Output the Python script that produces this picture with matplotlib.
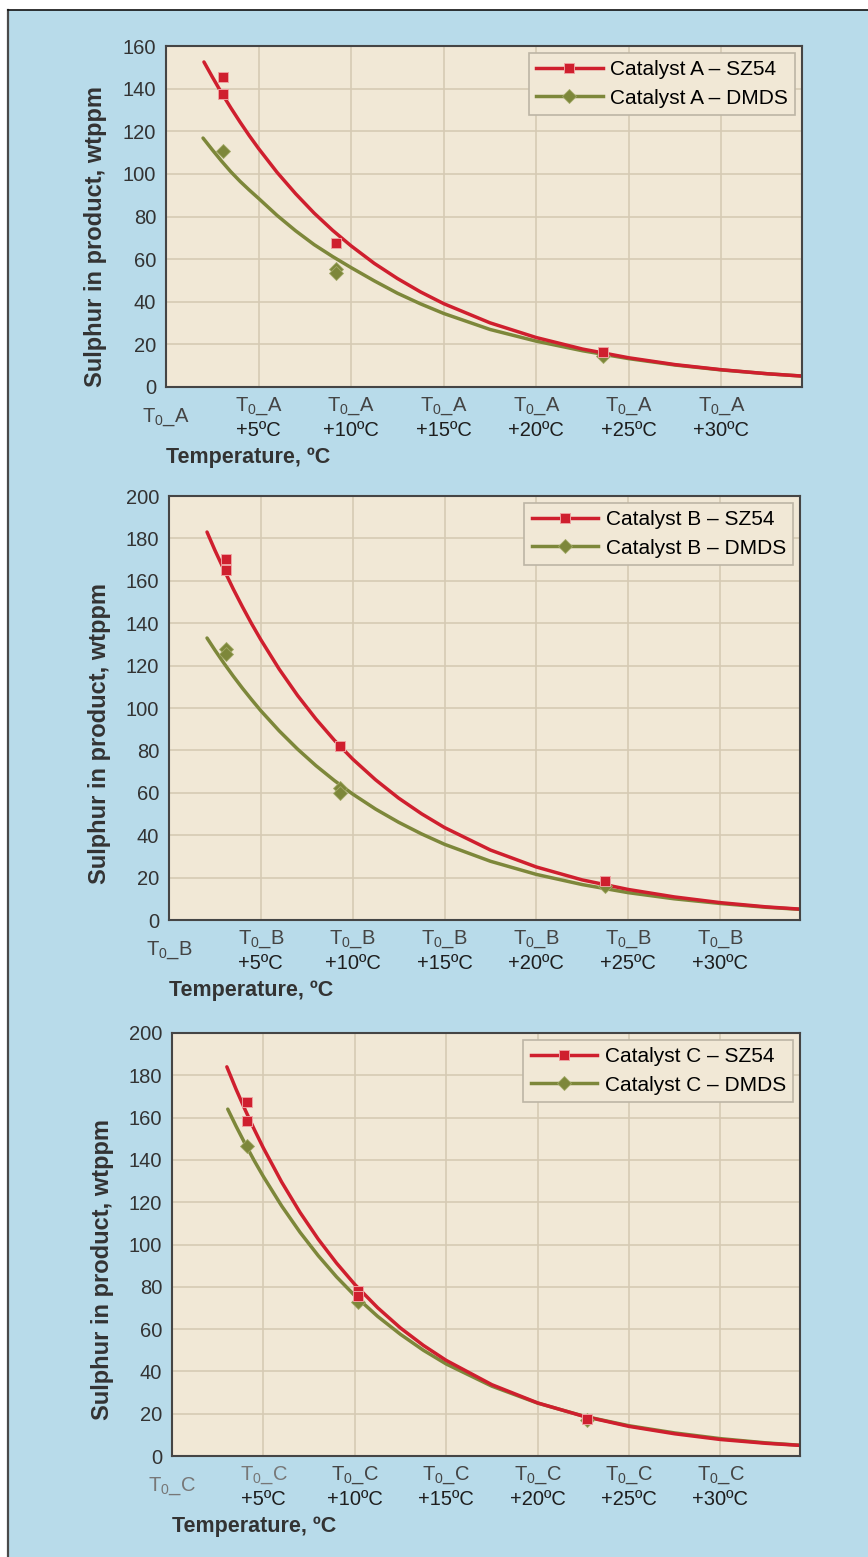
import numpy as np
import matplotlib.pyplot as plt
from matplotlib.lines import Line2D
from matplotlib.patches import Rectangle

plt.rcParams['font.family'] = ['Liberation Sans', 'DejaVu Sans']
plt.rcParams['mathtext.default'] = 'regular'

# =========================================================
# DATA, x = degrees above T0
# =========================================================
# --- Catalyst A ---
a_fit_red_x = [2.05, 2.5, 3, 3.5, 4, 4.5, 5, 6, 7, 8, 9, 10, 11.25, 12.5, 13.75, 15, 17.5, 20, 22.5, 25, 27.5, 30, 32.5, 34.4]
a_fit_red_y = [152.5, 145.5, 138, 131, 124.3, 117.9, 111.9, 100.7, 90.7, 81.6, 73.5, 66.2, 58, 50.9, 44.6, 39.1, 30.1, 23.2, 17.8, 13.7, 10.5, 8.1, 6.2, 5.1]
a_fit_olv_x = [2.0, 2.5, 3, 3.5, 4, 4.5, 5, 6, 7, 8, 9, 10, 11.25, 12.5, 13.75, 15, 17.5, 20, 22.5, 25, 27.5, 30, 32.5, 34.4]
a_fit_olv_y = [116.8, 111.3, 106, 101, 96.5, 92.4, 88.5, 80.5, 73.3, 66.8, 61.2, 56, 49.8, 44, 39, 34.5, 27, 21.5, 17, 13.3, 10.3, 8, 6.2, 5.1]
a_pts_red_x = [3.08, 3.08, 9.2, 23.6]
a_pts_red_y = [145.5, 137.5, 67.5, 16.2]
a_pts_olv_x = [3.08, 9.2, 9.2, 23.6]
a_pts_olv_y = [110.5, 55.5, 53.5, 14.5]

# --- Catalyst B ---
b_fit_red_x = [2.07, 2.5, 3, 3.5, 4, 4.5, 5, 6, 7, 8, 9, 10, 11.25, 12.5, 13.75, 15, 17.5, 20, 22.5, 25, 27.5, 30, 32.5, 34.4]
b_fit_red_y = [183, 174.4, 165.1, 156.1, 147.7, 139.7, 132.2, 118.3, 105.9, 94.8, 84.8, 75.9, 66.1, 57.5, 50.1, 43.6, 33, 25, 18.9, 14.4, 10.9, 8.2, 6.2, 5.1]
b_fit_olv_x = [2.07, 2.5, 3, 3.5, 4, 4.5, 5, 6, 7, 8, 9, 10, 11.25, 12.5, 13.75, 15, 17.5, 20, 22.5, 25, 27.5, 30, 32.5, 34.4]
b_fit_olv_y = [133, 127.3, 121, 115, 109.3, 103.9, 98.7, 89.2, 80.6, 72.8, 65.8, 59.4, 52.3, 46.1, 40.6, 35.7, 27.7, 21.5, 16.7, 12.9, 10, 7.8, 6, 5]
b_pts_red_x = [3.1, 3.1, 9.3, 23.75]
b_pts_red_y = [170.5, 165, 82, 18.2]
b_pts_olv_x = [3.1, 3.1, 9.3, 9.3, 23.75]
b_pts_olv_y = [128, 125.5, 62.5, 60, 16]

# --- Catalyst C ---
c_fit_red_x = [3.0, 3.5, 4, 4.5, 5, 6, 7, 8, 9, 10, 11.25, 12.5, 13.75, 15, 17.5, 20, 22.5, 25, 27.5, 30, 32.5, 34.4]
c_fit_red_y = [184, 173.5, 163.7, 154.4, 145.6, 129.5, 115.2, 102.5, 91.2, 81.1, 70.1, 60.5, 52.3, 45.2, 33.7, 25.1, 18.8, 14, 10.5, 7.8, 6, 5]
c_fit_olv_x = [3.05, 3.5, 4, 4.5, 5, 6, 7, 8, 9, 10, 11.25, 12.5, 13.75, 15, 17.5, 20, 22.5, 25, 27.5, 30, 32.5, 34.4]
c_fit_olv_y = [164, 156, 147.6, 139.6, 132.1, 118.2, 105.8, 94.7, 84.7, 75.8, 66, 57.5, 50, 43.5, 33, 25, 18.9, 14.3, 10.9, 8.2, 6.2, 5.05]
c_pts_red_x = [4.1, 4.1, 10.2, 10.2, 22.7]
c_pts_red_y = [167.5, 158.5, 78, 75.5, 17.5]
c_pts_olv_x = [4.1, 10.2, 22.7]
c_pts_olv_y = [146.5, 73, 17.2]

x_ticks = [0, 5, 10, 15, 20, 25, 30]
x_tick_bottom = ['', '+5ºC', '+10ºC', '+15ºC', '+20ºC', '+25ºC', '+30ºC']

# =========================================================
# STYLE
# =========================================================
RED = '#cf1f2e'
OLIVE = '#7d873a'
BLUE_BG = '#b8dbea'
FACE = '#f1e8d6'
GRID = '#d6cab4'
SPINE = '#454545'

W, H = 868, 1557
fig = plt.figure(figsize=(W / 100, H / 100), dpi=100, facecolor='white')

# blue panel with dark left / top border (behind the axes)
fig.patches.append(Rectangle((8 / W, 0), 1 - 8 / W, 1 - 10 / H, transform=fig.transFigure,
                             facecolor=BLUE_BG, edgecolor='none', zorder=-10))
fig.add_artist(Line2D([8 / W, 8 / W], [0, 1 - 10 / H], transform=fig.transFigure,
                      color='#4a4a4a', lw=1.6, zorder=-5))
fig.add_artist(Line2D([8 / W, 1], [1 - 10 / H, 1 - 10 / H], transform=fig.transFigure,
                      color='#111111', lw=1.2, zorder=-5))


def panel(rect, ymax, name, fit_red, fit_olv, pts_red, pts_olv, t0_colors):
    ax = fig.add_axes(rect)
    ax.set_facecolor(FACE)
    ax.set_xlim(0, 34.35)
    ax.set_ylim(0, ymax)
    ax.set_yticks(np.arange(0, ymax + 1, 20))
    ax.set_xticks(x_ticks)
    ax.set_xticklabels([])
    ax.tick_params(length=0, labelsize=14.5, labelcolor='#333333', pad=7)
    ax.grid(True, color=GRID, lw=1.2)
    ax.set_axisbelow(True)
    for s in ax.spines.values():
        s.set_color(SPINE)
        s.set_linewidth(1.5)

    ax.plot(fit_olv[0], fit_olv[1], color=OLIVE, lw=2.5, solid_capstyle='round', zorder=2)
    ax.plot(fit_red[0], fit_red[1], color=RED, lw=2.5, solid_capstyle='round', zorder=2)
    ax.plot(pts_olv[0], pts_olv[1], ls='none', marker='D', ms=7.5, color=OLIVE,
            mec='#a0a865', mew=0.6, zorder=3)
    ax.plot(pts_red[0], pts_red[1], ls='none', marker='s', ms=7, color=RED,
            mec='#eea0a0', mew=0.7, zorder=3)

    # two-line tick labels under the axis
    t0 = 'T$_0$_' + name
    for i, x in enumerate(x_ticks):
        if i == 0:
            ax.annotate(t0, (x, 0), xycoords=('data', 'axes fraction'), xytext=(0, -21.5),
                        textcoords='offset points', ha='center', va='center',
                        fontsize=14.5, color=t0_colors[0])
        else:
            ax.annotate(t0, (x, 0), xycoords=('data', 'axes fraction'), xytext=(0, -14),
                        textcoords='offset points', ha='center', va='center',
                        fontsize=14.5, color=t0_colors[1] if i == 1 else '#444444')
            ax.annotate(x_tick_bottom[i], (x, 0), xycoords=('data', 'axes fraction'),
                        xytext=(0, -31), textcoords='offset points', ha='center',
                        va='center', fontsize=14.5, color='#1e1e1e')

    ax.annotate('Temperature, ºC', (0, 0), xycoords='axes fraction', xytext=(0, -51),
                textcoords='offset points', ha='left', va='center', fontsize=15.5,
                fontweight='bold', color='#333333')
    ax.set_ylabel('Sulphur in product, wtppm', fontsize=17, fontweight='bold', color='#333333')
    ax.yaxis.set_label_coords(-0.092, 0.44)

    handles = [Line2D([], [], color=RED, lw=2.5, marker='s', ms=7, mec='#eea0a0', mew=0.7),
               Line2D([], [], color=OLIVE, lw=2.5, marker='D', ms=7.5, mec='#a0a865', mew=0.6)]
    leg = ax.legend(handles, ['Catalyst ' + name + ' – SZ54', 'Catalyst ' + name + ' – DMDS'],
                    loc='upper right', fontsize=15, handlelength=3.2, handletextpad=0.35,
                    labelspacing=0.45, borderpad=0.35, borderaxespad=0.33, fancybox=False,
                    framealpha=1, facecolor=FACE, edgecolor='#bdb5a5')
    leg.get_frame().set_linewidth(1.2)
    return ax


panel([166 / W, 1 - 387 / H, 636 / W, 341 / H], 160, 'A',
      (a_fit_red_x, a_fit_red_y), (a_fit_olv_x, a_fit_olv_y),
      (a_pts_red_x, a_pts_red_y), (a_pts_olv_x, a_pts_olv_y), ('#444444', '#444444'))
panel([169 / W, 1 - 920 / H, 631 / W, 424 / H], 200, 'B',
      (b_fit_red_x, b_fit_red_y), (b_fit_olv_x, b_fit_olv_y),
      (b_pts_red_x, b_pts_red_y), (b_pts_olv_x, b_pts_olv_y), ('#444444', '#444444'))
panel([172 / W, 1 - 1456 / H, 628 / W, 423 / H], 200, 'C',
      (c_fit_red_x, c_fit_red_y), (c_fit_olv_x, c_fit_olv_y),
      (c_pts_red_x, c_pts_red_y), (c_pts_olv_x, c_pts_olv_y), ('#777777', '#777777'))

plt.savefig('out.png', dpi=100, facecolor=fig.get_facecolor())
